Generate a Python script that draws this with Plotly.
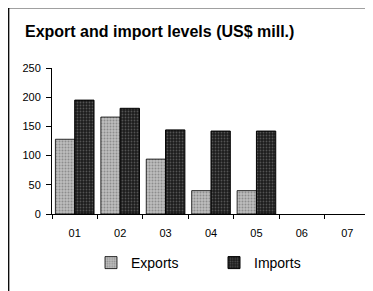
import plotly.graph_objects as go

categories = ["01", "02", "03", "04", "05", "06", "07"]
exports = [128, 166, 94, 40, 40, None, None]
imports = [195, 181, 144, 142, 142, None, None]
y_ticks = [0, 50, 100, 150, 200, 250]

OFF = 8  # page body margin
W, H = 373 - OFF, 291 - OFF
ML, MR, MT, MB = 52 - OFF, 3, 68 - OFF, 77
pw = W - ML - MR
ph = H - MT - MB

def px_x(p):
    return (p - OFF - ML) / pw

def px_y(p):
    return (H - MB - (p - OFF)) / ph

FONT = "Liberation Sans, Arial, sans-serif"

fig = go.Figure()
fig.add_trace(go.Bar(
    x=categories, y=exports, name="Exports", legend="legend", showlegend=True,
    marker=dict(color="#bdbdbd", line=dict(color="#000000", width=0.8),
                pattern=dict(shape=".", fgcolor="#5e5e5e", size=3, solidity=0.35)),
))
fig.add_trace(go.Bar(
    x=categories, y=imports, name="Imports", legend="legend2", showlegend=True,
    marker=dict(color="#1c1c1c", line=dict(color="#000000", width=1),
                pattern=dict(shape=".", fgcolor="#8a8a8a", size=3, solidity=0.3)),
))

fig.update_layout(
    width=W, height=H, showlegend=True,
    margin=dict(l=ML, r=MR, t=MT, b=MB),
    paper_bgcolor="white", plot_bgcolor="white",
    font=dict(family=FONT, color="#000000", size=11),
    barmode="group", bargap=0.15, bargroupgap=0,
    title=dict(text="<b>Export and import levels (US$ mill.)</b>",
               x=(25 - OFF) / W, xanchor="left", xref="container",
               y=1 - (31 - OFF) / H, yanchor="middle", yref="container",
               font=dict(size=16, family=FONT, color="#000000")),
    legend=dict(orientation="h", x=px_x(91), xanchor="left",
                y=px_y(263), yanchor="middle", font=dict(size=14),
                bgcolor="rgba(0,0,0,0)"),
    legend2=dict(orientation="h", x=px_x(214), xanchor="left",
                 y=px_y(263), yanchor="middle", font=dict(size=14),
                 bgcolor="rgba(0,0,0,0)"),
    xaxis=dict(type="category", tickson="boundaries", ticks="outside", ticklen=4,
               tickcolor="#000000", showline=True, linecolor="#000000", linewidth=1,
               showgrid=False, tickfont=dict(size=11), ticklabelstandoff=9),
    yaxis=dict(range=[0, 250], tickvals=y_ticks, ticks="outside", ticklen=5,
               tickcolor="#000000", showline=True, linecolor="#000000", linewidth=1,
               showgrid=False, zeroline=False, tickfont=dict(size=11),
               ticklabelstandoff=3),
    shapes=[
        dict(type="line", xref="paper", yref="paper",
             x0=px_x(8), x1=px_x(373), y0=px_y(8), y1=px_y(8),
             line=dict(color="#808080", width=1.5)),
        dict(type="line", xref="paper", yref="paper",
             x0=px_x(8.7), x1=px_x(8.7), y0=px_y(8), y1=px_y(291),
             line=dict(color="#000000", width=1.3)),
    ],
)

fig.write_html("out.html")
